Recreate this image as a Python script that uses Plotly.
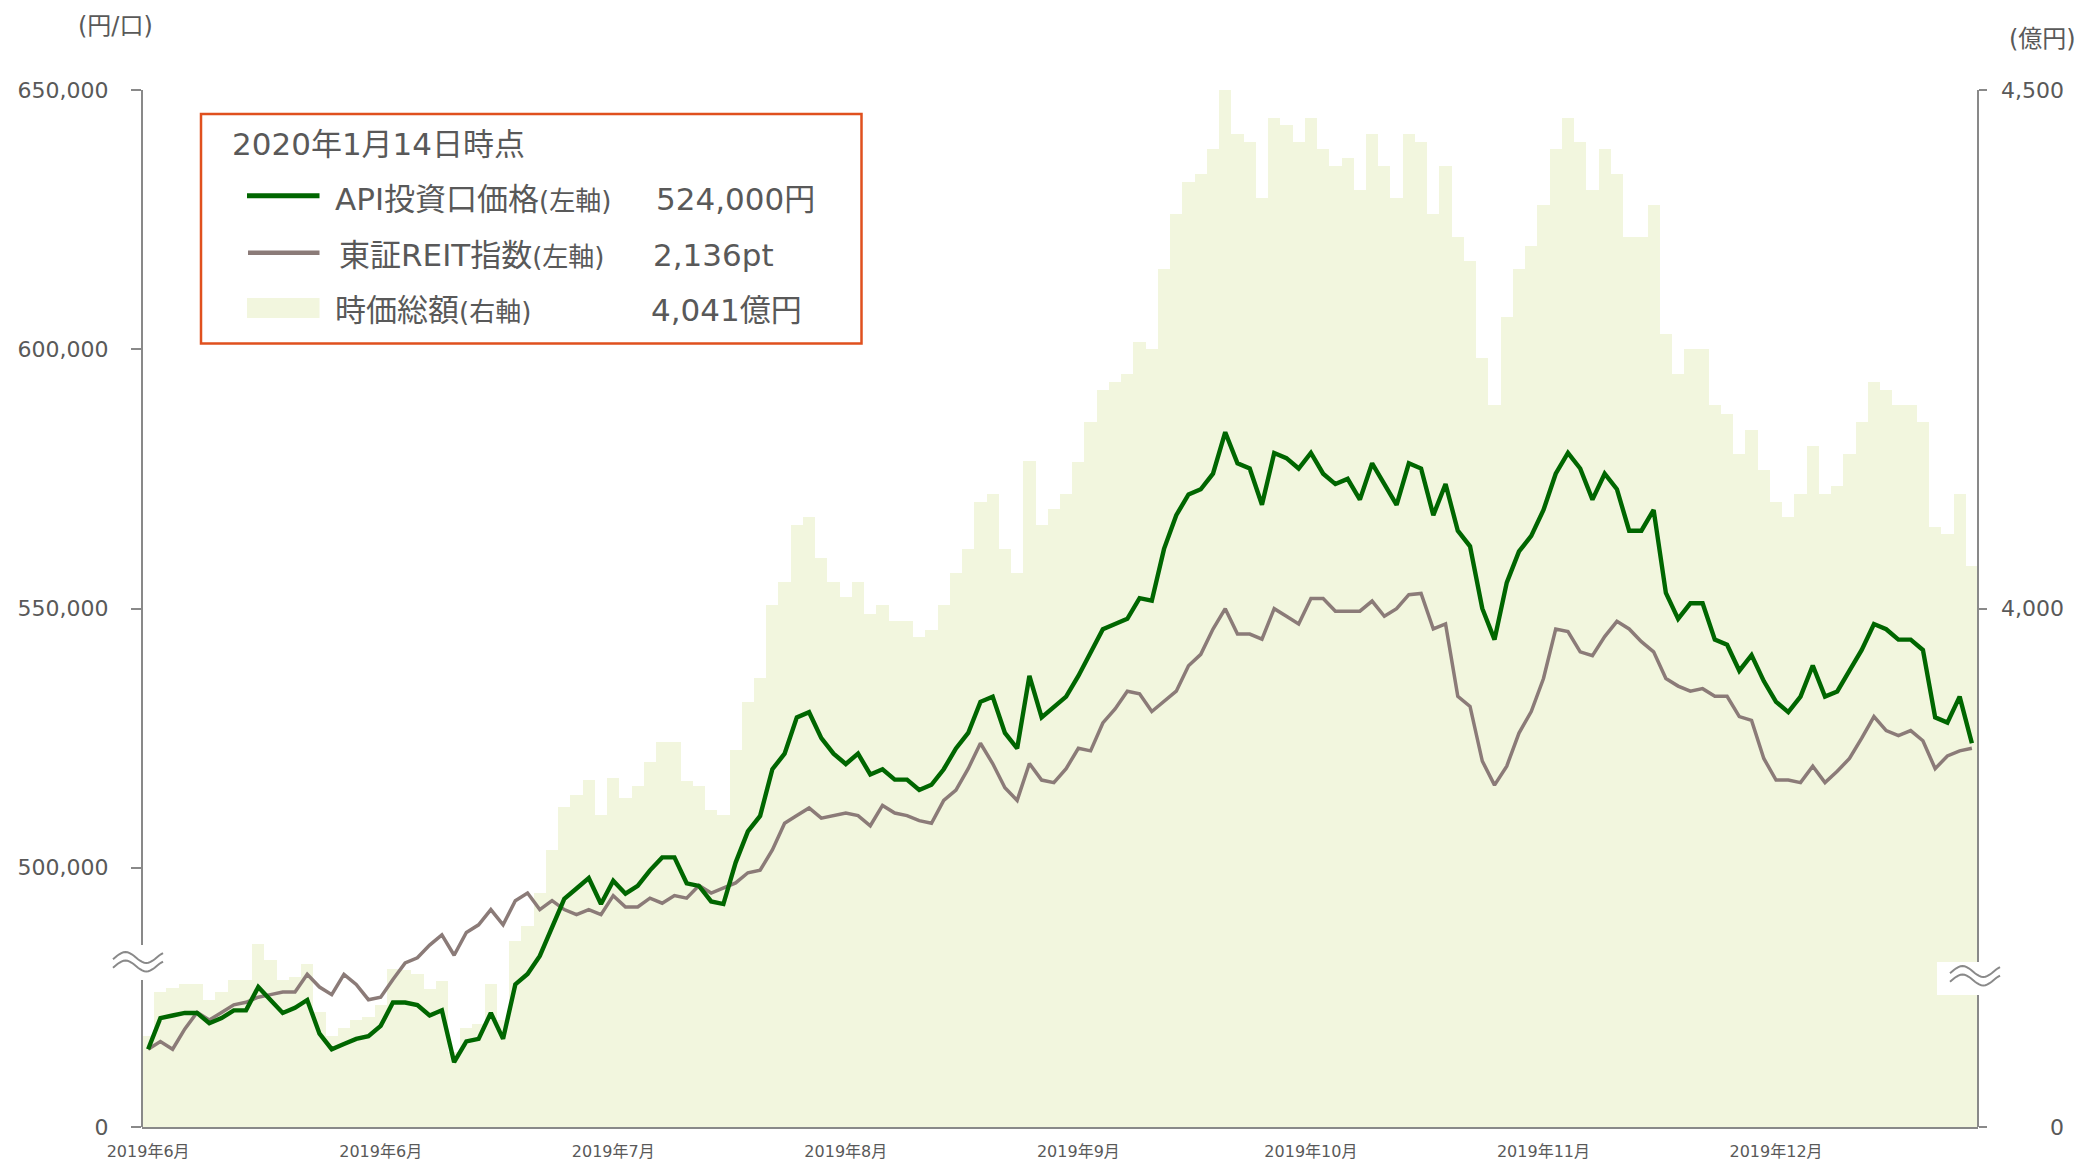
import plotly.graph_objects as go
import math

# ---- data -------------------------------------------------------------
month_labels = ["2019年6月", "2019年6月", "2019年7月", "2019年8月",
                "2019年9月", "2019年10月", "2019年11月", "2019年12月"]
label_every = 19

# API unit price (yen per unit)
api_price = [
    465000, 471000, 471500, 472000, 472000, 470000, 471000, 472500, 472500, 477000,
    474500, 472000, 473000, 474500, 468000, 465000, 466000, 467000, 467500, 469500,
    474000, 474000, 473500, 471500, 472500, 462500, 466500, 467000, 472000, 467000,
    477500, 479500, 483000, 488500, 494000, 496000, 498000, 493000, 497500, 495000,
    496500, 499500, 502000, 502000, 497000, 496500, 493500, 493000, 501000, 507000,
    510000, 519000, 522000, 529000, 530000, 525000, 522000, 520000, 522000, 518000,
    519000, 517000, 517000, 515000, 516000, 519000, 523000, 526000, 532000, 533000,
    526000, 523000, 537000, 529000, 531000, 533000, 537000, 541500, 546000, 547000,
    548000, 552000, 551500, 561500, 568000, 572000, 573000, 576000, 584000, 578000,
    577000, 570000, 580000, 579000, 577000, 580000, 576000, 574000, 575000, 571000,
    578000, 574000, 570000, 578000, 577000, 568000, 574000, 565000, 562000, 550000,
    544000, 555000, 561000, 564000, 569000, 576000, 580000, 577000, 571000, 576000,
    573000, 565000, 565000, 569000, 553000, 548000, 551000, 551000, 544000, 543000,
    538000, 541000, 536000, 532000, 530000, 533000, 539000, 533000, 534000, 538000,
    542000, 547000, 546000, 544000, 544000, 542000, 529000, 528000, 533000, 524000,
]

# TSE REIT index (points)
reit_index = [
    1899, 1905, 1899, 1915, 1928, 1922, 1928, 1934, 1936, 1940,
    1942, 1944, 1944, 1958, 1948, 1942, 1958, 1950, 1938, 1940,
    1954, 1967, 1971, 1981, 1989, 1973, 1991, 1997, 2009, 1997,
    2016, 2022, 2009, 2016, 2009, 2005, 2009, 2005, 2020, 2011,
    2011, 2018, 2014, 2020, 2018, 2028, 2022, 2026, 2030, 2038,
    2040, 2056, 2077, 2083, 2089, 2081, 2083, 2085, 2083, 2075,
    2091, 2085, 2083, 2079, 2077, 2095, 2103, 2120, 2140, 2124,
    2105, 2095, 2124, 2111, 2109, 2120, 2136, 2134, 2156, 2167,
    2181, 2179, 2165, 2173, 2181, 2201, 2210, 2230, 2246, 2226,
    2226, 2222, 2246, 2240, 2234, 2254, 2254, 2244, 2244, 2244,
    2252, 2240, 2246, 2257, 2258, 2230, 2234, 2177, 2169, 2126,
    2107, 2122, 2148, 2165, 2191, 2230, 2228, 2212, 2209, 2224,
    2236, 2230, 2220, 2212, 2191, 2185, 2181, 2183, 2177, 2177,
    2161, 2158, 2128, 2111, 2111, 2109, 2122, 2109, 2118, 2128,
    2144, 2161, 2150, 2146, 2150, 2142, 2120, 2130, 2134, 2136,
]

# Market capitalisation (100 million yen)
market_cap = [
    3588, 3630, 3634, 3638, 3638, 3622, 3630, 3642, 3642, 3676,
    3661, 3642, 3645, 3657, 3611, 3588, 3595, 3603, 3606, 3618,
    3652, 3651, 3648, 3633, 3641, 3572, 3595, 3599, 3638, 3603,
    3679, 3694, 3726, 3767, 3809, 3820, 3835, 3801, 3837, 3817,
    3829, 3852, 3871, 3871, 3834, 3829, 3806, 3801, 3864, 3910,
    3933, 4003, 4026, 4081, 4088, 4049, 4026, 4011, 4026, 3995,
    4003, 3988, 3988, 3973, 3979, 4003, 4034, 4057, 4103, 4110,
    4057, 4034, 4142, 4081, 4096, 4110, 4141, 4180, 4211, 4218,
    4226, 4257, 4250, 4327, 4380, 4411, 4419, 4443, 4500, 4458,
    4450, 4396, 4473, 4466, 4450, 4473, 4443, 4427, 4434, 4404,
    4458, 4427, 4396, 4458, 4450, 4380, 4427, 4358, 4335, 4242,
    4196, 4281, 4327, 4350, 4389, 4443, 4473, 4450, 4404, 4443,
    4419, 4358, 4358, 4389, 4265, 4226, 4250, 4250, 4196, 4188,
    4149, 4172, 4134, 4103, 4088, 4110, 4157, 4110, 4118, 4149,
    4180, 4218, 4211, 4196, 4196, 4180, 4079, 4072, 4110, 4041,
]

left_ticks = [450000, 500000, 550000, 600000, 650000]
left_ticktext = ["0", "500,000", "550,000", "600,000", "650,000"]
right_ticks = [3500, 4000, 4500]
right_ticktext = ["0", "4,000", "4,500"]

as_of_label = "2020年1月14日時点"
api_latest = "524,000円"
reit_latest = "2,136pt"
cap_latest = "4,041億円"

# ---- styling ----------------------------------------------------------
W, H = 2078, 1163
L, R, T, B = 142, 1978, 90, 1127
FONT = "DejaVu Sans, Noto Sans CJK JP, sans-serif"
TXT = "#595959"
AXIS = "#898989"
GREEN = "#006600"
BROWN = "#8B7B78"
FILL = "#F2F6DE"
BOX = "#E0501E"


def px(xp):
    return (xp - L) / (R - L)


def py(yp):
    return (B - yp) / (B - T)


n = len(api_price)
xs = list(range(n))
# REIT index rebased to the first API price
reit_rebased = [v * api_price[0] / reit_index[0] for v in reit_index]

fig = go.Figure()
fig.add_trace(go.Bar(x=xs, y=market_cap, width=1.0, yaxis="y",
                     marker=dict(color=FILL, line=dict(width=0)),
                     name="時価総額", showlegend=False))
fig.add_trace(go.Scatter(x=xs, y=reit_rebased, yaxis="y2", mode="lines",
                         line=dict(color=BROWN, width=3.5),
                         name="東証REIT指数", showlegend=False))
fig.add_trace(go.Scatter(x=xs, y=api_price, yaxis="y2", mode="lines",
                         line=dict(color=GREEN, width=4.4),
                         name="API投資口価格", showlegend=False))

shapes = []
ann = []

# axis lines with break gaps
for x0, segs in ((L, [(T, 945), (980, B)]), (R, [(T, 962), (995, B)])):
    for y0, y1 in segs:
        shapes.append(dict(type="line", xref="paper", yref="paper",
                           x0=px(x0), x1=px(x0), y0=py(y0), y1=py(y1),
                           line=dict(color=AXIS, width=2), layer="above"))

# white patch behind the right-hand break mark
shapes.append(dict(type="rect", xref="paper", yref="paper",
                   x0=px(1937), x1=px(2001), y0=py(995), y1=py(962),
                   fillcolor="white", line=dict(width=0), layer="above"))


def wave(x0, x1, yc, amp):
    pts = []
    steps = 24
    for k in range(steps + 1):
        t = k / steps
        a = -0.1 * math.pi + t * 2.4 * math.pi
        pts.append((px(x0 + (x1 - x0) * t), py(yc - amp * math.sin(a))))
    return "M " + " L ".join(f"{a:.5f},{b:.5f}" for a, b in pts)


for x0, x1, yc in ((113, 163, 957.5), (1950, 2000, 971.5)):
    for dy in (0, 8.5):
        shapes.append(dict(type="path", xref="paper", yref="paper",
                           path=wave(x0, x1, yc + dy, 5.5),
                           line=dict(color=AXIS, width=2), layer="above"))

# legend box
shapes.append(dict(type="rect", xref="paper", yref="paper",
                   x0=px(201), x1=px(861.5), y0=py(343.5), y1=py(114),
                   fillcolor="white", line=dict(color=BOX, width=2.5),
                   layer="above"))
shapes.append(dict(type="line", xref="paper", yref="paper",
                   x0=px(247), x1=px(319.5), y0=py(195.7), y1=py(195.7),
                   line=dict(color=GREEN, width=5), layer="above"))
shapes.append(dict(type="line", xref="paper", yref="paper",
                   x0=px(248), x1=px(319.5), y0=py(252.7), y1=py(252.7),
                   line=dict(color=BROWN, width=4.5), layer="above"))
shapes.append(dict(type="rect", xref="paper", yref="paper",
                   x0=px(247), x1=px(319.5), y0=py(318), y1=py(298),
                   fillcolor=FILL, line=dict(width=0), layer="above"))


def text(x, y, s, size, anchor="left"):
    ann.append(dict(xref="paper", yref="paper", x=px(x), y=py(y), text=s,
                    showarrow=False, xanchor=anchor, yanchor="middle",
                    font=dict(family=FONT, size=size, color=TXT)))


small = "<span style='font-size:26px'>{}</span>"
text(230, 144, as_of_label, 31)
text(333, 199, "API投資口価格" + small.format("(左軸)"), 31)
text(337, 255, "東証REIT指数" + small.format("(左軸)"), 31)
text(333, 310, "時価総額" + small.format("(右軸)"), 31)
text(654, 199, api_latest, 31)
text(651, 255, reit_latest, 31)
text(649, 310, cap_latest, 31)

# axis unit titles
text(115, 26, "(円/口)", 24, "center")
text(2042, 39, "(億円)", 24, "center")

# right-hand tick labels (right aligned)
for v, s in zip(right_ticks, right_ticktext):
    ann.append(dict(xref="paper", yref="y", x=px(2066), y=v, text=s,
                    showarrow=False, xanchor="right", yanchor="middle",
                    font=dict(family=FONT, size=22, color=TXT)))

fig.update_layout(
    width=W, height=H, autosize=False,
    margin=dict(l=L, r=W - R, t=T, b=H - B, pad=0),
    paper_bgcolor="white", plot_bgcolor="white",
    font=dict(family=FONT, color=TXT),
    bargap=0, showlegend=False,
    shapes=shapes, annotations=ann,
    xaxis=dict(range=[-0.5, n - 0.5], tickmode="array",
               tickvals=xs[::label_every], ticktext=month_labels,
               showline=True, linecolor=AXIS, linewidth=2, ticks="",
               showgrid=False, zeroline=False, automargin=False,
               tickfont=dict(family=FONT, size=16, color=TXT),
               ticklabelstandoff=9),
    yaxis=dict(side="right", range=[3500, 4500], tickmode="array",
               tickvals=right_ticks, showticklabels=False,
               ticks="outside", ticklen=8, tickwidth=2, tickcolor=AXIS,
               showgrid=False, zeroline=False, showline=False,
               automargin=False),
    yaxis2=dict(side="left", overlaying="y", range=[450000, 650000],
                tickmode="array", tickvals=left_ticks, ticktext=left_ticktext,
                ticks="outside", ticklen=10, tickwidth=2, tickcolor=AXIS,
                showgrid=False, zeroline=False, showline=False,
                automargin=False,
                tickfont=dict(family=FONT, size=22, color=TXT),
                ticklabelstandoff=18),
)

fig.write_html("out.html")
